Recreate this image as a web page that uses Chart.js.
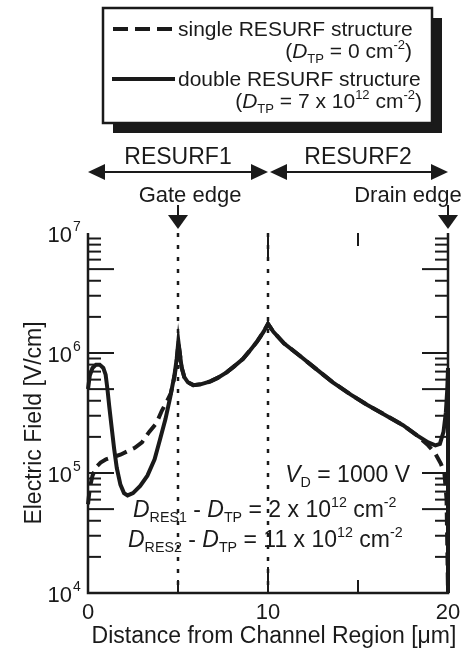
<!DOCTYPE html>
<html><head><meta charset="utf-8">
<script src="https://cdn.jsdelivr.net/npm/chart.js@4/dist/chart.umd.min.js"></script>
<style>html,body{margin:0;padding:0;background:#fff;}canvas{display:block;}</style>
</head><body>
<canvas id="c" width="463" height="653"></canvas>
<script>
// ---- data ----
const solidX = [0.0,0.1,0.25,0.45,0.65,0.85,0.98,1.08,1.18,1.3,1.45,1.6,1.8,2.0,2.2,2.5,2.9,3.3,3.7,4.0,4.3,4.57,4.8,4.93,5.02,5.1,5.2,5.35,5.55,5.85,6.3,6.8,7.2,7.7,8.1,8.6,9.0,9.4,9.75,10.0,10.3,10.9,11.8,12.7,13.6,14.6,15.5,16.5,17.5,18.3,18.9,19.3,19.55,19.75,19.88,19.96,20.0,20.0];
const solidY = [5.0e5,6.5e5,7.5e5,8.0e5,8.0e5,7.5e5,6.6e5,5.0e5,3.6e5,2.5e5,1.6e5,1.1e5,8.0e4,6.8e4,6.5e4,6.8e4,7.8e4,9.5e4,1.3e5,1.9e5,2.8e5,4.3e5,6.5e5,9.0e5,1.25e6,1.0e6,7.6e5,6.3e5,5.7e5,5.4e5,5.5e5,5.8e5,6.2e5,6.9e5,7.7e5,8.9e5,1.05e6,1.25e6,1.5e6,1.75e6,1.5e6,1.2e6,9.4e5,7.3e5,5.7e5,4.5e5,3.7e5,3.05e5,2.5e5,2.05e5,1.8e5,1.7e5,1.75e5,2.2e5,3.2e5,5.0e5,7.5e5,1.0e4];
const dashedX = [0.0,0.1,0.25,0.45,0.7,1.0,1.4,1.8,2.2,2.6,3.0,3.4,3.8,4.1,4.4,4.6,4.8,4.93,5.02,5.1,5.2,5.35,5.55,5.85,6.3,6.8,7.2,7.7,8.1,8.6,9.0,9.4,9.75,10.0,10.3,10.9,11.8,12.7,13.6,14.6,15.5,16.5,17.5,18.3,18.9,19.3,19.6,19.8,19.92,20.0];
const dashedY = [5.5e4,7.5e4,9.5e4,1.12e5,1.22e5,1.3e5,1.36e5,1.42e5,1.52e5,1.62e5,1.8e5,2.2e5,2.6e5,3.3e5,4.0e5,4.6e5,6.3e5,8.5e5,1.2e6,1.0e6,7.6e5,6.3e5,5.7e5,5.4e5,5.5e5,5.8e5,6.2e5,6.9e5,7.7e5,8.9e5,1.05e6,1.25e6,1.5e6,1.75e6,1.5e6,1.2e6,9.4e5,7.3e5,5.7e5,4.5e5,3.7e5,3.05e5,2.5e5,2.05e5,1.7e5,1.45e5,1.2e5,1.0e5,6.0e4,1.0e4];
const xTickLabels = [0, 10, 20];
const yTickExponents = [4, 5, 6, 7];
const markerX = [5, 10];
const seriesNames = ['single RESURF structure', 'double RESURF structure'];

const FONT = '"Liberation Sans", Arial, Helvetica, sans-serif';
const INK = '#1a1a1a';

function toPts(xs, ys){ return xs.map((x,i)=>({x:x, y:ys[i]})); }

function richWidth(ctx, segs, size){
  let w = 0;
  for (const s of segs){
    const sz = (s.sub||s.sup) ? size*0.62 : size;
    ctx.font = (s.it?'italic ':'') + sz + 'px ' + FONT;
    w += ctx.measureText(s.t).width;
  }
  return w;
}
function drawRich(ctx, x, y, segs, size, align){
  let w = richWidth(ctx, segs, size);
  let cx = align==='right' ? x-w : align==='center' ? x-w/2 : x;
  ctx.textBaseline = 'alphabetic';
  ctx.textAlign = 'left';
  ctx.fillStyle = INK;
  for (const s of segs){
    const sz = (s.sub||s.sup) ? size*0.62 : size;
    ctx.font = (s.it?'italic ':'') + sz + 'px ' + FONT;
    let dy = s.sub ? size*0.22 : s.sup ? -size*0.42 : 0;
    ctx.fillText(s.t, cx, y+dy);
    cx += ctx.measureText(s.t).width;
  }
}
function arrowHead(ctx, tipX, tipY, dir, len, half){
  ctx.beginPath();
  if (dir==='left'){ ctx.moveTo(tipX,tipY); ctx.lineTo(tipX+len,tipY-half); ctx.lineTo(tipX+len,tipY+half); }
  else if (dir==='right'){ ctx.moveTo(tipX,tipY); ctx.lineTo(tipX-len,tipY-half); ctx.lineTo(tipX-len,tipY+half); }
  else { ctx.moveTo(tipX,tipY); ctx.lineTo(tipX-half,tipY-len); ctx.lineTo(tipX+half,tipY-len); }
  ctx.closePath(); ctx.fill();
}

const deco = {
  id: 'deco',
  beforeDatasetsDraw(chart){
    const ctx = chart.ctx, a = chart.chartArea, xs = chart.scales.x;
    ctx.save();
    ctx.strokeStyle = INK; ctx.lineWidth = 2.5; ctx.setLineDash([4,8]);
    for (const v of markerX){
      const px = Math.round(xs.getPixelForValue(v));
      ctx.beginPath(); ctx.moveTo(px, a.top); ctx.lineTo(px, a.bottom); ctx.stroke();
    }
    ctx.restore();
  },
  afterDatasetsDraw(chart){
    const ctx = chart.ctx, a = chart.chartArea, xs = chart.scales.x, ys = chart.scales.y;
    ctx.save();
    ctx.strokeStyle = INK; ctx.fillStyle = INK; ctx.setLineDash([]);
    ctx.lineWidth = 2.5;
    ctx.beginPath();
    ctx.moveTo(a.left, a.top); ctx.lineTo(a.left, a.bottom); ctx.lineTo(a.right, a.bottom); ctx.lineTo(a.right, a.top);
    ctx.stroke();
    ctx.lineWidth = 2;
    for (let e = yTickExponents[0]; e < yTickExponents[yTickExponents.length-1]; e++){
      for (let m = 1; m <= 9; m++){
        const py = ys.getPixelForValue(m*Math.pow(10,e));
        const L = (m===1||m===5) ? 26 : 13;
        ctx.beginPath(); ctx.moveTo(a.left, py); ctx.lineTo(a.left+L, py); ctx.stroke();
        ctx.beginPath(); ctx.moveTo(a.right, py); ctx.lineTo(a.right-L, py); ctx.stroke();
      }
    }
    for (const v of [5,10,15]){
      const px = xs.getPixelForValue(v);
      const L = v===10 ? 26 : 13;
      ctx.beginPath(); ctx.moveTo(px, a.bottom); ctx.lineTo(px, a.bottom-L); ctx.stroke();
      if (v!==5){ ctx.beginPath(); ctx.moveTo(px, a.top); ctx.lineTo(px, a.top+L); ctx.stroke(); }
    }
    for (const e of yTickExponents){
      const py = ys.getPixelForValue(Math.pow(10,e));
      ctx.font = '22px ' + FONT; ctx.textAlign = 'right'; ctx.textBaseline = 'alphabetic';
      ctx.fillText('10', a.left-16, py+9);
      ctx.font = '14px ' + FONT; ctx.textAlign = 'left';
      ctx.fillText(String(e), a.left-15, py-2);
    }
    ctx.font = '22px ' + FONT; ctx.textAlign = 'center'; ctx.textBaseline = 'alphabetic';
    for (const v of xTickLabels){
      ctx.fillText(String(v), xs.getPixelForValue(v), a.bottom+26);
    }
    ctx.font = '23px ' + FONT;
    ctx.fillText('Distance from Channel Region [\u03bcm]', (a.left+a.right)/2+6, a.bottom+50);
    ctx.save();
    ctx.translate(41, (a.top+a.bottom)/2+10);
    ctx.rotate(-Math.PI/2);
    ctx.textAlign='center';
    ctx.fillText('Electric Field [V/cm]', 0, 0);
    ctx.restore();

    const x0 = xs.getPixelForValue(0), x10 = xs.getPixelForValue(10), x20 = xs.getPixelForValue(20), x5 = xs.getPixelForValue(5);
    const ay = 172;
    ctx.lineWidth = 2;
    ctx.beginPath(); ctx.moveTo(x0+10, ay); ctx.lineTo(x10-10, ay); ctx.stroke();
    ctx.beginPath(); ctx.moveTo(x10+10, ay); ctx.lineTo(x20-10, ay); ctx.stroke();
    arrowHead(ctx, x0, ay, 'left', 17, 8);
    arrowHead(ctx, x10, ay, 'right', 17, 8);
    arrowHead(ctx, x10+2, ay, 'left', 17, 8);
    arrowHead(ctx, x20, ay, 'right', 17, 8);
    ctx.font = '23px ' + FONT; ctx.textAlign='center'; ctx.textBaseline='alphabetic';
    ctx.fillText('RESURF1', (x0+x10)/2, 164);
    ctx.fillText('RESURF2', (x10+x20)/2, 164);
    ctx.font = '22px ' + FONT;
    ctx.fillText('Gate edge', x5+12, 202);
    ctx.fillText('Drain edge', x20-40, 202);
    for (const px of [x5, x20]){
      ctx.beginPath(); ctx.moveTo(px, 205); ctx.lineTo(px, 216); ctx.stroke();
      arrowHead(ctx, px, 229, 'down', 14, 10);
    }

    drawRich(ctx, 410, 482, [{t:'V',it:1},{t:'D',sub:1},{t:' = 1000 V'}], 23, 'right');
    drawRich(ctx, 133, 517, [{t:'D',it:1},{t:'RES1',sub:1},{t:' - '},{t:'D',it:1},{t:'TP',sub:1},{t:' = 2 x 10'},{t:'12',sup:1},{t:' cm'},{t:'-2',sup:1}], 23, 'left');
    drawRich(ctx, 128, 547, [{t:'D',it:1},{t:'RES2',sub:1},{t:' - '},{t:'D',it:1},{t:'TP',sub:1},{t:' = 11 x 10'},{t:'12',sup:1},{t:' cm'},{t:'-2',sup:1}], 23, 'left');

    const bx=103, by=8, bw=329, bh=115;
    ctx.fillStyle = INK; ctx.fillRect(bx+10, by+10, bw, bh);
    ctx.fillStyle = '#fff'; ctx.fillRect(bx, by, bw, bh);
    ctx.strokeStyle = INK; ctx.lineWidth = 2.5; ctx.strokeRect(bx, by, bw, bh);
    ctx.lineWidth = 4; ctx.setLineDash([15,7]);
    ctx.beginPath(); ctx.moveTo(113, 29); ctx.lineTo(174, 29); ctx.stroke();
    ctx.setLineDash([]);
    ctx.beginPath(); ctx.moveTo(112, 79); ctx.lineTo(175, 79); ctx.stroke();
    drawRich(ctx, 178, 36, [{t:seriesNames[0]}], 21, 'left');
    drawRich(ctx, 412, 58, [{t:'('},{t:'D',it:1},{t:'TP',sub:1},{t:' = 0 cm'},{t:'-2',sup:1},{t:')'}], 21, 'right');
    drawRich(ctx, 178, 86, [{t:seriesNames[1]}], 21, 'left');
    drawRich(ctx, 422, 108, [{t:'('},{t:'D',it:1},{t:'TP',sub:1},{t:' = 7 x 10'},{t:'12',sup:1},{t:' cm'},{t:'-2',sup:1},{t:')'}], 21, 'right');
    ctx.restore();
  }
};

new Chart(document.getElementById('c'), {
  type: 'scatter',
  data: {
    datasets: [
      { label: seriesNames[1], data: toPts(solidX, solidY), showLine: true, borderColor: INK, borderWidth: 4, pointRadius: 0, tension: 0, fill: false, clip: false, order: 2 },
      { label: seriesNames[0], data: toPts(dashedX, dashedY), showLine: true, borderColor: INK, borderWidth: 4, borderDash: [13,7], pointRadius: 0, tension: 0, fill: false, clip: false, order: 1 }
    ]
  },
  options: {
    responsive: false, animation: false, devicePixelRatio: 1,
    layout: { padding: { left: 88, right: 15, top: 233, bottom: 60 } },
    plugins: { legend: { display: false }, tooltip: { enabled: false } },
    scales: {
      x: { type: 'linear', min: 0, max: 20, display: false },
      y: { type: 'logarithmic', min: 1e4, max: 1e7, display: false }
    }
  },
  plugins: [deco]
});
</script>
</body></html>
